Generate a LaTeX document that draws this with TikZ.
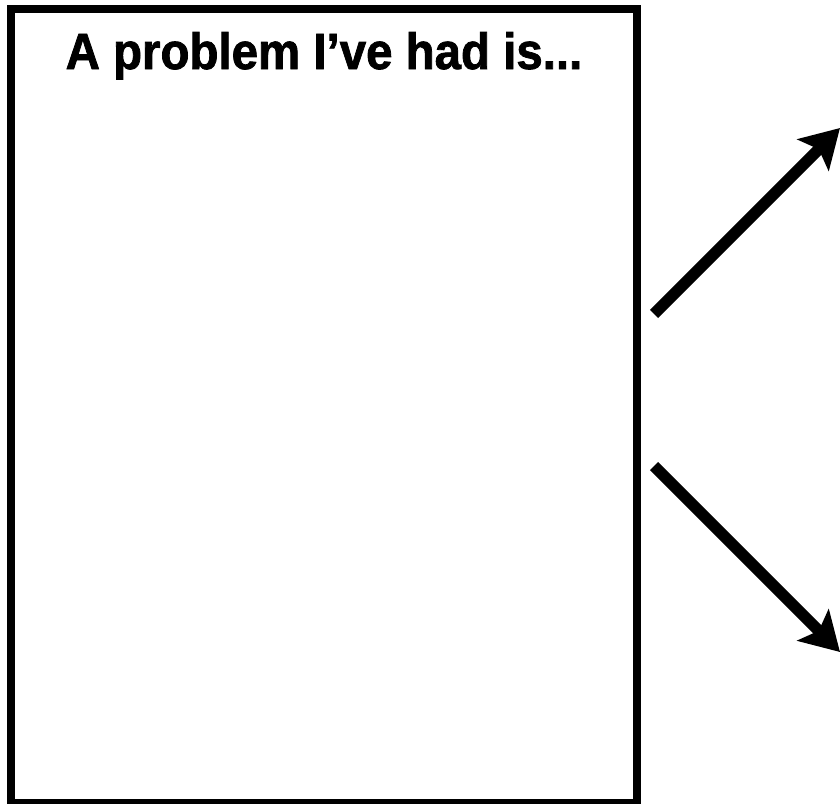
\documentclass[tikz,border=0pt]{standalone}
\usepackage{fontspec}
\setmainfont{Liberation Sans}[BoldFeatures={FakeBold=1.5, FakeStretch=0.93}]
\usepackage{tikz}
\usetikzlibrary{arrows.meta, positioning}

\begin{document}
\begin{tikzpicture}[x=1pt, y=-1pt,
    probbox/.style={rectangle, draw, line width=8pt, inner sep=0pt, minimum width=626pt, minimum height=794pt},
    titletext/.style={font=\fontsize{51}{58}\selectfont\bfseries, inner sep=0pt},
    bigarrow/.style={-{Stealth[length=38pt, width=44pt, inset=8pt]}, line width=11.5pt}]
  \useasboundingbox (0,0) rectangle (840,803);
  \node[probbox] (prob) at (324,406) {};
  \node[titletext, anchor=base] (title) at ([yshift=-64pt]prob.north) {A problem I’ve had is...};
  \coordinate (uptail) at (654,314);
  \coordinate (uphead) at (840,128);
  \coordinate (downtail) at (654,466);
  \coordinate (downhead) at (840,652);
  \draw[bigarrow] (uptail) -- (uphead);
  \draw[bigarrow] (downtail) -- (downhead);
\end{tikzpicture}
\end{document}
